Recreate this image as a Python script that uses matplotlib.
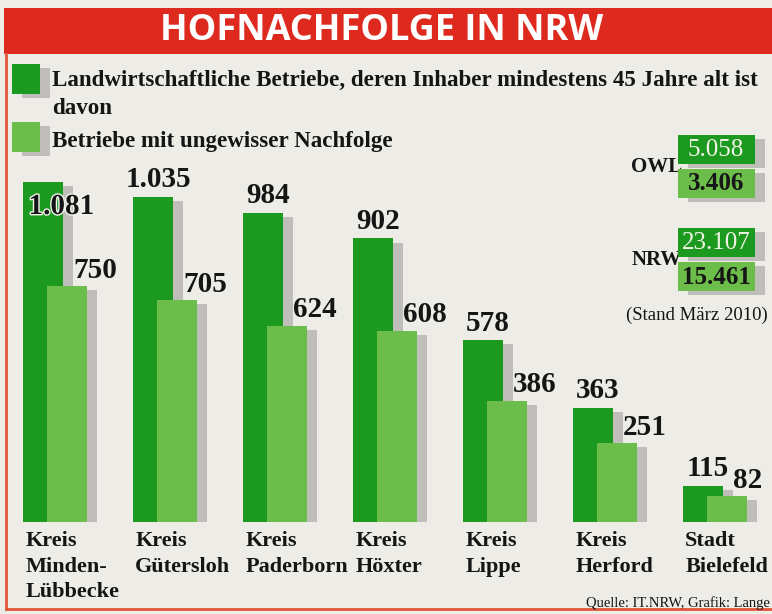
import matplotlib.pyplot as plt
import matplotlib.patheffects as pe
from matplotlib.patches import Rectangle
from matplotlib.transforms import blended_transform_factory

# data
regions = ['Kreis\nMinden-\nLübbecke', 'Kreis\nGütersloh', 'Kreis\nPaderborn',
           'Kreis\nHöxter', 'Kreis\nLippe', 'Kreis\nHerford', 'Stadt\nBielefeld']
betriebe_45 = [1081, 1035, 984, 902, 578, 363, 115]
ungewiss = [750, 705, 624, 608, 386, 251, 82]
owl_values = [5058, 3406]
nrw_values = [23107, 15461]

title = 'HOFNACHFOLGE IN NRW'
legend_1 = 'Landwirtschaftliche Betriebe, deren Inhaber mindestens 45 Jahre alt ist\ndavon'
legend_2 = 'Betriebe mit ungewisser Nachfolge'
stand = '(Stand März 2010)'
source = 'Quelle: IT.NRW, Grafik: Lange'

DARK = '#1c9a1f'
LIGHT = '#6dbd4b'
RED = '#de2a1e'
BG = '#edece6'
INK = '#151515'
SERIF = 'Liberation Serif'

W, H = 772, 614


def px(x, y):
    # pixel (from top-left) -> figure fraction
    return x / W, 1 - y / H


def fmt(v):
    return f'{v:,}'.replace(',', '.')


shadow = [pe.SimplePatchShadow(offset=(7, -3), shadow_rgbFace='#555555', alpha=0.3),
          pe.Normal()]

fig = plt.figure(figsize=(W / 100, H / 100), dpi=100, facecolor=BG)

# header
fig.add_artist(Rectangle(px(4, 54), 768 / W, 46 / H, transform=fig.transFigure,
                         facecolor=RED, edgecolor='none'))
fig.text(*px(382, 31), title, color='white', fontsize=26, fontweight='bold',
         family='Open Sans', ha='center', va='center')
# frame lines
fig.add_artist(plt.Line2D([6 / W, 6 / W], [px(0, 54)[1], px(0, 609)[1]],
                          transform=fig.transFigure, color='#e2553a', lw=2))
fig.add_artist(plt.Line2D([6 / W, 1], [px(0, 609)[1]] * 2,
                          transform=fig.transFigure, color='#e2553a', lw=2))

# legend
for (y0, col) in [(64, DARK), (122, LIGHT)]:
    r = Rectangle(px(12, y0 + 30), 28 / W, 30 / H, transform=fig.transFigure,
                  facecolor=col, edgecolor='none')
    r.set_path_effects(shadow)
    fig.add_artist(r)
fig.text(*px(52, 86), legend_1.split('\n')[0], fontsize=16.6, fontweight='bold',
         family=SERIF, color=INK, va='baseline', ha='left')
fig.text(*px(52, 114), legend_1.split('\n')[1], fontsize=16.6, fontweight='bold',
         family=SERIF, color=INK, va='baseline', ha='left')
fig.text(*px(52, 147), legend_2, fontsize=16.6, fontweight='bold', family=SERIF,
         color=INK, va='baseline', ha='left')

# bar chart
ax = fig.add_axes([0, (H - 522) / H, 1, (522 - 150) / H])
ax.set_facecolor('none')
ax.set_xlim(-0.391, 6.627)
ax.set_ylim(0, 1183)
ax.axis('off')

bw = 0.364
off = 0.218
x = list(range(len(regions)))
b1 = ax.bar(x, betriebe_45, width=bw, color=DARK, zorder=2)
b2 = ax.bar([i + off for i in x], ungewiss, width=bw, color=LIGHT, zorder=3)
for p in list(b1) + list(b2):
    p.set_path_effects(shadow)

lab_kw = dict(textcoords='offset points', fontsize=21, fontweight='bold',
              family=SERIF, color=INK, zorder=5, va='baseline')
for i, v in enumerate(betriebe_45):
    if v == max(betriebe_45):
        ax.annotate(fmt(v), (i - bw / 2, v), xytext=(4, -23), ha='left',
                    path_effects=[pe.withStroke(linewidth=2, foreground='#f4f4ee')],
                    **lab_kw)
    else:
        ax.annotate(fmt(v), (i + 0.045, v), xytext=(0, 7), ha='center', **lab_kw)
for i, v in enumerate(ungewiss):
    ax.annotate(fmt(v), (i + off + bw / 2, v), xytext=(-10, 6), ha='left', **lab_kw)

tr = blended_transform_factory(ax.transData, ax.transAxes)
for i, lab in enumerate(regions):
    ax.text(i - bw / 2 + 0.02, -0.025, lab, transform=tr, ha='left', va='top',
            fontsize=16, fontweight='bold', family=SERIF, color=INK,
            linespacing=1.35)

# OWL / NRW totals
for name, vals, y_top in [('OWL', owl_values, 135), ('NRW', nrw_values, 228)]:
    fig.text(*px(682, y_top + 32), name, fontsize=15, fontweight='bold', family=SERIF,
             color=INK, ha='right', va='center', zorder=1)
    for k, (v, col, tc) in enumerate(zip(vals, [DARK, LIGHT], ['#f2f2e6', INK])):
        yt = y_top + k * 34
        r = Rectangle(px(678, yt + 29), 77 / W, 29 / H, transform=fig.transFigure,
                      facecolor=col, edgecolor='none', zorder=2)
        r.set_path_effects(shadow)
        fig.add_artist(r)
        fig.text(*px(716, yt + 15), fmt(v), fontsize=18, family=SERIF, color=tc,
                 fontweight='bold' if k else 'normal', ha='center', va='center',
                 zorder=3)
fig.text(*px(768, 315), stand, fontsize=13.5, family=SERIF, color=INK,
         ha='right', va='center')

fig.text(*px(770, 603), source, fontsize=10.5, family=SERIF, color=INK,
         ha='right', va='center')

fig.savefig('out.png', dpi=100, facecolor=BG)
